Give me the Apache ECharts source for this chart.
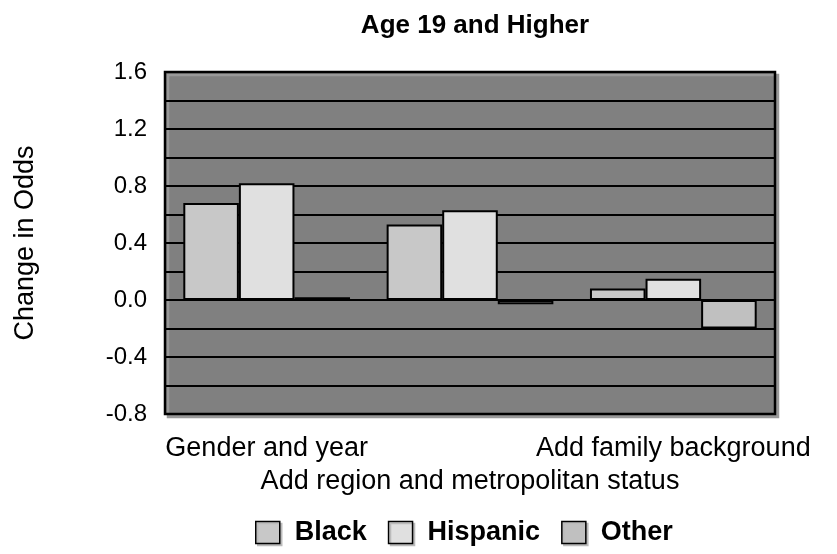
<!DOCTYPE html>
<html>
<head>
<meta charset="utf-8">
<script src="https://cdn.jsdelivr.net/npm/echarts@6/dist/echarts.min.js"></script>
<style>
html,body{margin:0;padding:0;background:#fff;}
#chart{width:837px;height:554px;}
</style>
</head>
<body>
<div id="chart"></div>
<script>
// 数据
var categories = ['Gender and year', 'Add region and metropolitan status', 'Add family background'];
var seriesNames = ['Black', 'Hispanic', 'Other'];
var blackData = [0.68, 0.53, 0.08];
var hispanicData = [0.82, 0.63, 0.15];
var otherData = [0.02, -0.03, -0.20];
var barColors = ['#c8c8c8', '#e0e0e0', '#c0c0c0'];

var chart = echarts.init(document.getElementById('chart'));
var font = 'Liberation Sans, Arial, sans-serif';

function mkSeries(name, data, color){
	return {
		name: name, type: 'bar', data: data,
		barGap: '0%', barCategoryGap: '18%',
		itemStyle: {color: color, borderColor: '#000', borderWidth: 2},
		emphasis: {disabled: true}
	};
}

var option = {
	animation: false,
	textStyle: {fontFamily: font},
	title: {
		text: 'Age 19 and Higher', left: 470, top: 8, textAlign: 'center',
		textStyle: {fontSize: 26, fontWeight: 'bold', color: '#000', fontFamily: font}
	},
	legend: {
		top: 519, left: 255, padding: 0, icon: 'rect', itemWidth: 24, itemHeight: 22, itemGap: 21,
		textStyle: {fontSize: 27, fontWeight: 'bold', color: '#000', fontFamily: font, padding: [0, 0, 0, 10]},
		itemStyle: {borderColor: '#000', borderWidth: 1.5, shadowColor: '#bbb', shadowOffsetX: 2, shadowOffsetY: 2, shadowBlur: 0},
		data: seriesNames
	},
	grid: {
		left: 165, right: 62, top: 72, bottom: 140,
		show: true, backgroundColor: '#808080', borderColor: '#000', borderWidth: 2.5,
		shadowColor: '#999', shadowOffsetX: 3, shadowOffsetY: 3, shadowBlur: 0
	},
	xAxis: {
		type: 'category', data: categories,
		axisLine: {show: true, lineStyle: {color: '#000', width: 2}},
		axisTick: {show: false},
		axisLabel: {
			interval: 0, margin: 18, fontSize: 27, lineHeight: 33, color: '#000', fontFamily: font,
			formatter: function(v, i){ return i % 2 ? '\n' + v : v; }
		}
	},
	yAxis: {
		type: 'value', min: -0.8, max: 1.6, interval: 0.2,
		name: 'Change in Odds', nameLocation: 'middle', nameRotate: 90, nameGap: 126,
		nameTextStyle: {fontSize: 27, color: '#000', fontFamily: font},
		axisLine: {show: false}, axisTick: {show: false},
		axisLabel: {
			fontSize: 24, color: '#000', margin: 18, fontFamily: font,
			formatter: function(v, i){ return i % 2 === 0 ? v.toFixed(1) : ''; }
		},
		splitLine: {show: true, lineStyle: {color: '#000', width: 2}}
	},
	series: [
		mkSeries(seriesNames[0], blackData, barColors[0]),
		mkSeries(seriesNames[1], hispanicData, barColors[1]),
		mkSeries(seriesNames[2], otherData, barColors[2])
	]
};
chart.setOption(option);
</script>
</body>
</html>
